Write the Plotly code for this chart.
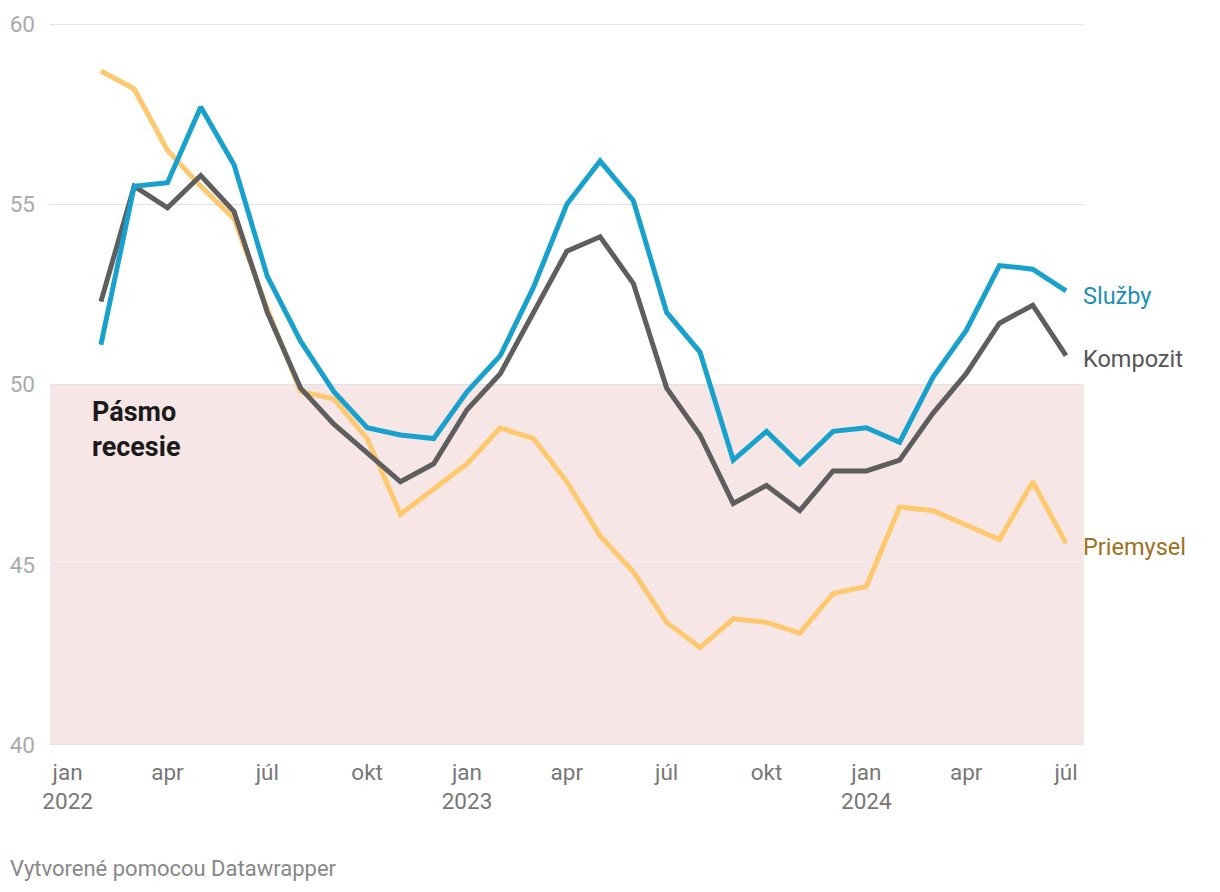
import plotly.graph_objects as go

# month index: 0 = jan 2022
months = list(range(1, 31))  # feb 2022 .. júl 2024

sluzby = [51.1, 55.5, 55.6, 57.7, 56.1, 53.0, 51.2, 49.8, 48.8, 48.6, 48.5,
          49.8, 50.8, 52.7, 55.0, 56.2, 55.1, 52.0, 50.9, 47.9, 48.7, 47.8, 48.7,
          48.8, 48.4, 50.2, 51.5, 53.3, 53.2, 52.6]
kompozit = [52.3, 55.5, 54.9, 55.8, 54.8, 52.0, 49.9, 48.9, 48.1, 47.3, 47.8,
            49.3, 50.3, 52.0, 53.7, 54.1, 52.8, 49.9, 48.6, 46.7, 47.2, 46.5, 47.6,
            47.6, 47.9, 49.2, 50.3, 51.7, 52.2, 50.8]
priemysel = [58.7, 58.2, 56.5, 55.5, 54.6, 52.1, 49.8, 49.6, 48.5, 46.4, 47.1,
             47.8, 48.8, 48.5, 47.3, 45.8, 44.8, 43.4, 42.7, 43.5, 43.4, 43.1, 44.2,
             44.4, 46.6, 46.5, 46.1, 45.7, 47.3, 45.6]

series_names = ["Priemysel", "Kompozit", "Služby"]
line_colors = ["#fec96e", "#5e5e5e", "#18a1cd"]
label_colors = ["#a0701e", "#555555", "#1a8fb5"]

tick_vals = [0, 3, 6, 9, 12, 15, 18, 21, 24, 27, 30]
tick_text = ["jan<br>2022", "apr", "júl", "okt", "jan<br>2023", "apr", "júl", "okt",
             "jan<br>2024", "apr", "júl"]
y_ticks = [40, 45, 50, 55, 60]

recession_low, recession_high = 40, 50
x_range = [-0.53, 30.54]
y_range = [39.97, 60.03]

fig = go.Figure()
for name, vals, lc in zip(series_names, [priemysel, kompozit, sluzby], line_colors):
    fig.add_trace(go.Scatter(x=months, y=vals, mode="lines", name=name,
                             line=dict(color=lc, width=5), hoverinfo="skip"))

# recession band
fig.add_shape(type="rect", xref="x", yref="y", x0=x_range[0], x1=x_range[1],
              y0=recession_low, y1=recession_high, fillcolor="#f6e6e6",
              line=dict(width=0), layer="below")

# end labels
label_offsets = {"Priemysel": -0.1, "Kompozit": -0.1, "Služby": -0.15}
for name, vals, c in zip(series_names, [priemysel, kompozit, sluzby], label_colors):
    fig.add_annotation(x=x_range[1], y=vals[-1] + label_offsets[name], xref="x", yref="y",
                       text=name, showarrow=False, xanchor="left", yanchor="middle",
                       xshift=-3,
                       font=dict(family="Roboto", size=23.5, color=c))

fig.add_annotation(x=0.7, y=48.74, xref="x", yref="y",
                   text="<b>Pásmo<br>recesie</b>", showarrow=False,
                   xanchor="left", yanchor="middle", align="left", xshift=-1,
                   font=dict(family="Roboto", size=27, color="#1a1a1a"))

fig.add_annotation(x=0, y=0, xref="paper", yref="paper", xshift=-42, yshift=-137,
                   text="Vytvorené pomocou Datawrapper", showarrow=False,
                   xanchor="left", yanchor="bottom",
                   font=dict(family="Roboto", size=22, color="#888888"))

fig.update_layout(
    width=1220, height=892,
    margin=dict(l=42, r=144, t=15, b=154, autoexpand=False),
    paper_bgcolor="white", plot_bgcolor="white",
    showlegend=False,
    font=dict(family="Roboto"),
    xaxis=dict(range=x_range, tickvals=tick_vals, ticktext=tick_text,
               showgrid=False, zeroline=False, showline=False, ticks="",
               tickfont=dict(size=22.5, color="#777777"), ticklabelstandoff=10,
               automargin=False, fixedrange=True),
    yaxis=dict(range=y_range, tickvals=y_ticks, showgrid=True,
               gridcolor="#e3e3e3", gridwidth=1, zeroline=False, showline=False,
               ticks="", tickfont=dict(size=22.5, color="#aaaaaa"),
               ticklabelstandoff=14, automargin=False, fixedrange=True),
)

fig.write_html("out.html")
